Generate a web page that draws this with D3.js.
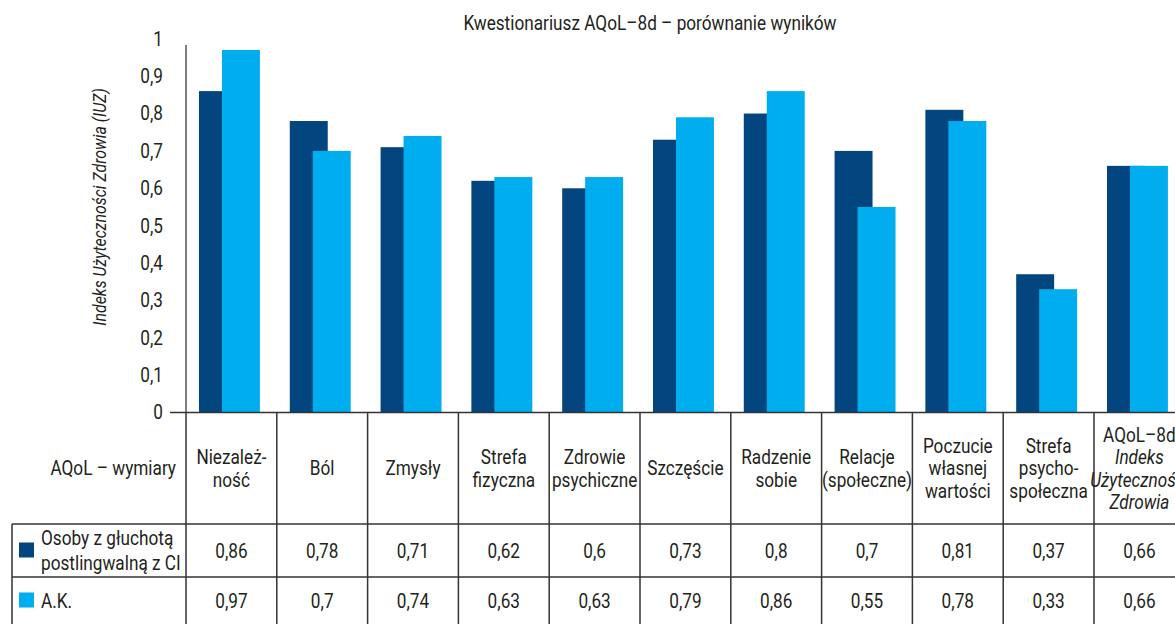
<!DOCTYPE html>
<html>
<head>
<meta charset="utf-8">
<script src="https://cdn.jsdelivr.net/npm/d3@7"></script>
<style>
  body { margin: 0; background: #fff; }
  svg text { font-family: Roboto, "Liberation Sans", sans-serif; fill: #231f20; }
</style>
</head>
<body>
<div id="chart"></div>
<script>
// data
const categories = ["Niezależność", "Ból", "Zmysły", "Strefa fizyczna", "Zdrowie psychiczne",
  "Szczęście", "Radzenie sobie", "Relacje (społeczne)", "Poczucie własnej wartości",
  "Strefa psychospołeczna", "AQoL–8d Indeks Użyteczności Zdrowia"];
const categoryLines = [
  ["Niezależ-", "ność"], ["Ból"], ["Zmysły"], ["Strefa", "fizyczna"], ["Zdrowie", "psychiczne"],
  ["Szczęście"], ["Radzenie", "sobie"], ["Relacje", "(społeczne)"], ["Poczucie", "własnej", "wartości"],
  ["Strefa", "psycho-", "społeczna"], ["AQoL–8d", "Indeks", "Użyteczności", "Zdrowia"]
];
const italicLines = ["Indeks", "Użyteczności", "Zdrowia"];
const seriesNames = [["Osoby z głuchotą", "postlingwalną z CI"], ["A.K."]];
const seriesCI = [0.86, 0.78, 0.71, 0.62, 0.6, 0.73, 0.8, 0.7, 0.81, 0.37, 0.66];
const seriesAK = [0.97, 0.7, 0.74, 0.63, 0.63, 0.79, 0.86, 0.55, 0.78, 0.33, 0.66];
const yTicks = [0, 0.1, 0.2, 0.3, 0.4, 0.5, 0.6, 0.7, 0.8, 0.9, 1];

const colors = ["#03467f", "#00adef"];
const W = 1175, H = 624;
const SX = 0.86; // horizontal squeeze to mimic a condensed face

const svg = d3.select("#chart").append("svg")
  .attr("width", W).attr("height", H);

const x = d3.scaleBand()
  .domain(categories)
  .range([186, 186 + 11 * 90.8])
  .padding(0);

const y = d3.scaleLinear()
  .domain([0, 1])
  .range([412.5, 38.8]);

const bw = x.bandwidth();
const fmt = d => String(d).replace(".", ",");

// condensed text helper
function label(px, py, txt, anchor, size, italic, rot) {
  return svg.append("text")
    .attr("transform", `translate(${px},${py})${rot ? " rotate(" + rot + ")" : ""} scale(${SX},1)`)
    .attr("dy", "0.35em")
    .attr("text-anchor", anchor || "start")
    .style("font-size", (size || 20) + "px")
    .style("font-style", italic ? "italic" : "normal")
    .text(txt);
}

// title
label(650, 23, "Kwestionariusz AQoL–8d – porównanie wyników", "middle");

// y axis
const yAxis = d3.axisLeft(y)
  .tickValues(yTicks)
  .tickSize(0)
  .tickPadding(23)
  .tickFormat(fmt);

const gy = svg.append("g")
  .attr("transform", "translate(186,0)")
  .call(yAxis);
gy.select(".domain").remove();
gy.selectAll("text")
  .attr("font-family", null)
  .attr("x", -23 / SX)
  .attr("transform", `scale(${SX},1)`)
  .style("font-size", "20px");

svg.append("line")
  .attr("x1", 186).attr("x2", 186)
  .attr("y1", y(0)).attr("y2", 45)
  .attr("stroke", "#555").attr("stroke-width", 1.5);

label(100, y(0.55), "Indeks Użyteczności Zdrowia (IUZ)", "middle", 18.5, true, -90);

// bars
const rows = categories.map((c, i) => ({ c, ci: seriesCI[i], ak: seriesAK[i] }));

svg.selectAll(".bar-ci").data(rows).join("rect")
  .attr("class", "bar-ci")
  .attr("x", d => x(d.c) + bw * 0.143)
  .attr("width", bw * 0.418)
  .attr("y", d => y(d.ci))
  .attr("height", d => y(0) - y(d.ci))
  .attr("fill", colors[0]);

svg.selectAll(".bar-ak").data(rows).join("rect")
  .attr("class", "bar-ak")
  .attr("x", d => x(d.c) + bw * 0.396)
  .attr("width", bw * 0.418)
  .attr("y", d => y(d.ak))
  .attr("height", d => y(0) - y(d.ak))
  .attr("fill", colors[1]);

// table
const rowTop = y(0), row1 = 524, row2 = 577, rowEnd = H;
const line = (x1, y1, x2, y2) => svg.append("line")
  .attr("x1", x1).attr("y1", y1).attr("x2", x2).attr("y2", y2)
  .attr("stroke", "#333").attr("stroke-width", 1.5);

line(170, rowTop, W, rowTop);
line(12, row1, W, row1);
line(12, row2, W, row2);
line(12, row1, 12, rowEnd);
categories.forEach(c => line(x(c), rowTop, x(c), rowEnd));
line(x(categories[10]) + bw, rowTop, x(categories[10]) + bw, rowEnd);

label(176, (rowTop + row1) / 2, "AQoL – wymiary", "end");

const lh = 22.5;
categories.forEach((c, i) => {
  const lines = categoryLines[i];
  const cy = (rowTop + row1) / 2 - (lines.length - 1) * lh / 2;
  lines.forEach((t, j) => {
    label(x(c) + bw / 2, cy + j * lh, t, "middle", 20, i === 10 && italicLines.includes(t));
  });
});

// series rows
const rowBounds = [[row1, row2], [row2, rowEnd]];
const values = [seriesCI, seriesAK];
seriesNames.forEach((names, s) => {
  const cy = (rowBounds[s][0] + rowBounds[s][1]) / 2;
  svg.append("rect")
    .attr("x", 19).attr("y", cy - 8)
    .attr("width", 15).attr("height", 15)
    .attr("fill", colors[s]);
  names.forEach((t, j) => {
    label(41, cy - (names.length - 1) * 12.5 + j * 25, t, "start");
  });
  categories.forEach((c, i) => {
    label(x(c) + bw / 2, cy, fmt(values[s][i]), "middle");
  });
});
</script>
</body>
</html>
